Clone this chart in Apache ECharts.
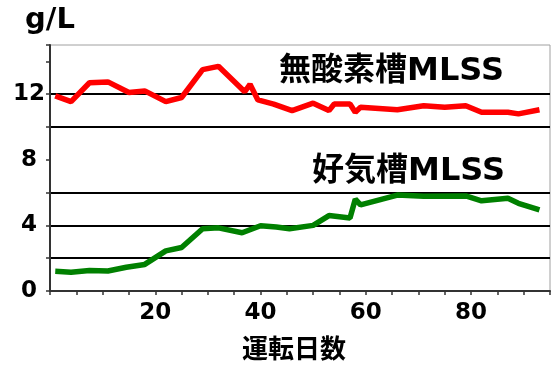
<!DOCTYPE html>
<html>
<head>
<meta charset="utf-8">
<script src="https://cdn.jsdelivr.net/npm/echarts@6/dist/echarts.min.js"></script>
<style>
  html, body { margin: 0; padding: 0; background: #fff; }
  #chart { width: 551px; height: 365px; }
</style>
</head>
<body>
<div id="chart"></div>
<script>
// 無酸素槽 MLSS (g/L)
const anoxicDays = [1, 4, 7.5, 11, 15, 18, 22, 25, 29, 32, 37, 38, 39.5, 42.5, 46, 50, 53, 54, 57, 58, 59, 66, 71, 75, 79, 82, 87, 89, 93];
const anoxicValues = [11.9, 11.55, 12.7, 12.75, 12.1, 12.2, 11.55, 11.8, 13.5, 13.7, 12.15, 12.6, 11.65, 11.4, 11.0, 11.45, 11.0, 11.4, 11.4, 10.9, 11.2, 11.05, 11.3, 11.2, 11.3, 10.9, 10.9, 10.8, 11.05];

// 好気槽 MLSS (g/L)
const aerobicDays = [1, 4, 7.5, 11, 14.5, 18, 22, 25, 29, 32, 36.5, 40, 43, 45.5, 50, 53, 57, 58, 59, 66, 71, 79, 82, 87, 89, 93];
const aerobicValues = [1.2, 1.15, 1.25, 1.22, 1.45, 1.62, 2.45, 2.65, 3.8, 3.85, 3.55, 3.98, 3.9, 3.8, 4.0, 4.6, 4.45, 5.6, 5.25, 5.85, 5.78, 5.8, 5.5, 5.65, 5.35, 4.95];

const xLabels = [20, 40, 60, 80];
const yLabels = [0, 4, 8, 12];
const gridValues = [2, 4, 6, 10, 12];

const font = '"DejaVu Sans", "Noto Sans CJK JP", sans-serif';

const chart = echarts.init(document.getElementById('chart'), null, { renderer: 'canvas' });

// y split lines at 0,2,...,14,15 -> only draw the ones in gridValues
const yTicks = [0, 2, 4, 6, 8, 10, 12, 14, 15];
const splitColors = yTicks.map(v => gridValues.includes(v) ? '#000' : 'rgba(0,0,0,0)');

chart.setOption({
  animation: false,
  grid: {
    left: 50,
    right: 1,
    top: 45,
    bottom: 74,
    outerBoundsMode: 'none',
    show: true,
    borderColor: '#a0a0a0',
    borderWidth: 1
  },
  xAxis: {
    type: 'value',
    min: 0,
    max: 95,
    interval: 5,
    name: '運転日数',
    nameLocation: 'middle',
    nameGap: 47,
    nameTextStyle: {
      fontFamily: font,
      fontWeight: 'bold',
      fontSize: 26,
      color: '#000',
      padding: [0, 12, 0, 0]
    },
    axisLine: { lineStyle: { color: '#333', width: 2 } },
    axisTick: { show: true, length: 4, lineStyle: { color: '#333', width: 1.5 } },
    axisLabel: {
      margin: 11,
      fontFamily: font,
      fontWeight: 'bold',
      fontSize: 23,
      color: '#000',
      formatter: v => xLabels.includes(v) ? String(v) : ''
    },
    splitLine: { show: false }
  },
  yAxis: {
    type: 'value',
    min: 0,
    max: 15,
    interval: 2,
    name: 'g/L',
    nameLocation: 'end',
    nameGap: 10,
    nameTextStyle: {
      fontFamily: font,
      fontWeight: 'bold',
      fontSize: 29,
      color: '#000'
    },
    axisLine: { show: true, lineStyle: { color: '#333', width: 2 } },
    axisTick: { show: true, length: 4, lineStyle: { color: '#333', width: 1.5 } },
    axisLabel: {
      margin: 21,
      align: 'center',
      fontFamily: font,
      fontWeight: 'bold',
      fontSize: 23,
      color: '#000',
      formatter: v => yLabels.includes(v) ? String(v) : ''
    },
    splitLine: { show: true, lineStyle: { color: splitColors, width: 2 } }
  },
  graphic: [
    {
      type: 'text',
      right: 47,
      top: 56,
      style: {
        text: '無酸素槽MLSS',
        fontFamily: font,
        fontWeight: 'bold',
        fontSize: 32,
        fill: '#000'
      }
    },
    {
      type: 'text',
      right: 46,
      top: 156,
      style: {
        text: '好気槽MLSS',
        fontFamily: font,
        fontWeight: 'bold',
        fontSize: 32,
        fill: '#000'
      }
    }
  ],
  series: [
    {
      name: '無酸素槽MLSS',
      type: 'line',
      data: anoxicDays.map((d, i) => [d, anoxicValues[i]]),
      symbol: 'none',
      lineStyle: { color: '#ff0000', width: 5.5 }
    },
    {
      name: '好気槽MLSS',
      type: 'line',
      data: aerobicDays.map((d, i) => [d, aerobicValues[i]]),
      symbol: 'none',
      lineStyle: { color: '#008000', width: 5.5 }
    }
  ]
});
</script>
</body>
</html>
